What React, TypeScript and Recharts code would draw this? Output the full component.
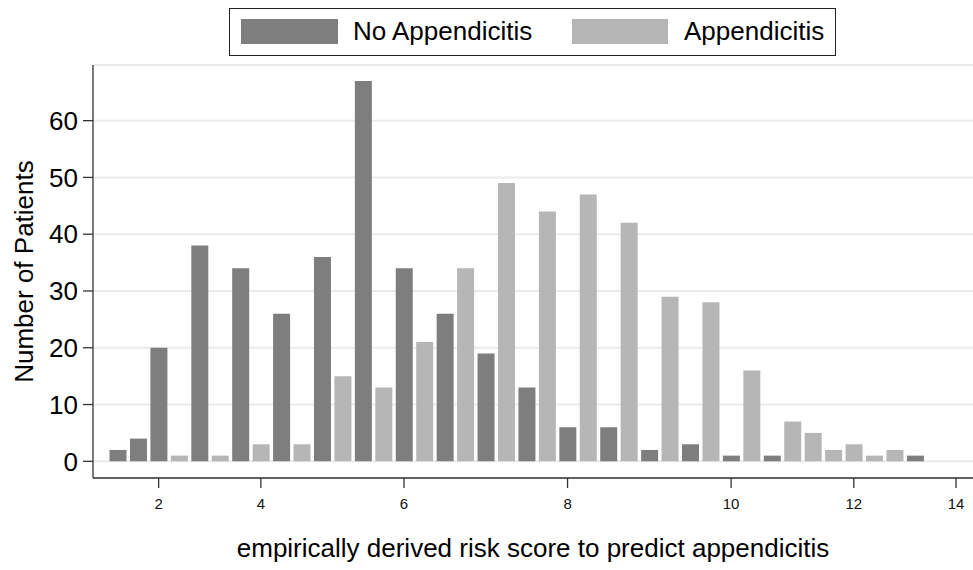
import { Bar, CartesianGrid, ComposedChart, XAxis, YAxis } from "recharts";

const noAppendicitis = [
  2, 4, 20, null, 38, null, 34, null, 26, null, 36, null, 67, null, 34, null, 26, null, 19, null,
  13, null, 6, null, 6, null, 2, null, 3, null, 1, null, 1, null, null, null, null, null, null, 1,
];
const appendicitis = [
  null, null, null, 1, null, 1, null, 3, null, 3, null, 15, null, 13, null, 21, null, 34, null, 49,
  null, 44, null, 47, null, 42, null, 29, null, 28, null, 16, null, 7, 5, 2, 3, 1, 2, null,
];
const tickSlots = [2, 7, 14, 22, 30, 36, 41];
const tickLabels = ["2", "4", "6", "8", "10", "12", "14"];
const yTicks = [0, 10, 20, 30, 40, 50, 60];

const data = noAppendicitis.map((v, i) => ({ slot: i, no: v, yes: appendicitis[i] }));

const font = '"Liberation Sans", Arial, Helvetica, sans-serif';
const dark = "#7e7e7e";
const light = "#b6b6b6";
const axisColor = "#333";

export default function App() {
  return (
    <div style={{ position: "absolute", left: 0, top: 0, width: 973, height: 570, background: "#fff", fontFamily: font }}>
      <ComposedChart width={973} height={570} data={data} margin={{ top: 65, right: 0, left: 10, bottom: 7 }}>
        <CartesianGrid vertical={false} stroke="#ebebeb" strokeWidth={2} />
        <XAxis
          type="number"
          dataKey="slot"
          domain={[-1.21, 41.83]}
          ticks={tickSlots}
          tickFormatter={(v: number) => tickLabels[tickSlots.indexOf(v)] ?? ""}
          allowDataOverflow
          height={85}
          tickSize={10}
          tickMargin={10}
          stroke={axisColor}
          strokeWidth={1.3}
          tick={{ fontSize: 15, fill: "#111", fontFamily: font }}
          label={{
            value: "empirically derived risk score to predict appendicitis",
            position: "insideBottom",
            offset: 6,
            style: { fontSize: 26, fill: "#000", fontFamily: font },
          }}
        />
        <YAxis
          type="number"
          domain={[-2.94, 69.8]}
          ticks={yTicks}
          allowDataOverflow
          width={83}
          tickSize={10}
          tickMargin={5}
          stroke={axisColor}
          strokeWidth={1.3}
          tick={{ fontSize: 26, fill: "#000", fontFamily: font }}
          label={{
            value: "Number of Patients",
            angle: -90,
            position: "insideLeft",
            offset: 14,
            style: { fontSize: 26, fill: "#000", fontFamily: font, textAnchor: "middle" },
          }}
        />
        <Bar dataKey="no" name="No Appendicitis" stackId="a" fill={dark} barSize={17} isAnimationActive={false} />
        <Bar dataKey="yes" name="Appendicitis" stackId="a" fill={light} barSize={17} isAnimationActive={false} />
      </ComposedChart>
      <div
        style={{
          position: "absolute",
          left: 229,
          top: 8,
          width: 607,
          height: 48,
          border: "1.5px solid #222",
          boxSizing: "border-box",
          fontSize: 26,
          color: "#000",
        }}
      >
        <div style={{ position: "absolute", left: 11, top: 10, width: 97, height: 25, background: dark }} />
        <div style={{ position: "absolute", left: 123, top: 7, lineHeight: "30px" }}>No Appendicitis</div>
        <div style={{ position: "absolute", left: 342, top: 10, width: 96, height: 25, background: light }} />
        <div style={{ position: "absolute", left: 454, top: 7, lineHeight: "30px" }}>Appendicitis</div>
      </div>
    </div>
  );
}
